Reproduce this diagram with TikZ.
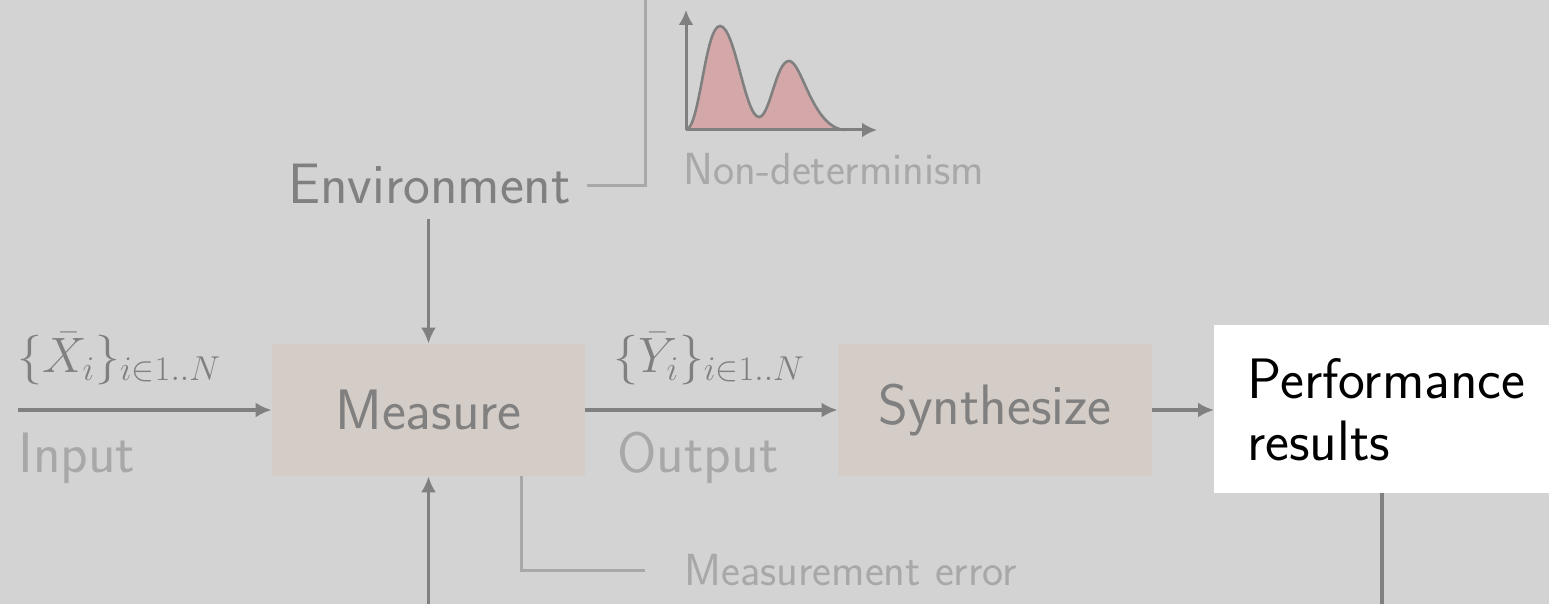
\documentclass[tikz,border=0pt]{standalone}
\usetikzlibrary{arrows.meta}
\definecolor{bg}{RGB}{211,211,211}
\definecolor{boxc}{RGB}{212,204,198}
\definecolor{dk}{RGB}{128,128,128}
\definecolor{lt}{RGB}{168,168,168}
\definecolor{pk}{RGB}{212,168,168}
\begin{document}
\begin{tikzpicture}[x=0.5pt,y=-0.5pt,
  blk/.style={fill=boxc, text=dk, minimum height=66pt, inner sep=0pt, font=\sffamily\fontsize{28.5}{31}\selectfont},
  lbl/.style={anchor=base west, inner sep=0pt, text=lt, font=\sffamily\fontsize{28.5}{31}\selectfont},
  sml/.style={anchor=base west, inner sep=0pt, text=lt, font=\sffamily\fontsize{22.5}{26}\selectfont},
  mth/.style={anchor=base west, inner sep=0pt, text=dk, font=\fontsize{24}{26}\selectfont},
  arr/.style={draw=dk, line width=1.6pt, -{Latex[length=8pt,width=7.5pt]}},
  brk/.style={draw=lt, line width=1.5pt},
  axis/.style={draw=dk, line width=1.5pt, -{Latex[length=7.5pt,width=7.5pt]}},
]
\useasboundingbox (0,0) rectangle (1549,604);
\fill[bg] (0,0) rectangle (1549,604);

% boxes
\node[blk, minimum width=156.5pt] (measure) at (428.5,410) {Measure};
\node[blk, minimum width=157pt] (synth) at (995,410) {Synthesize};
\node[fill=white, anchor=north west, minimum width=150pt, minimum height=84pt,
      inner xsep=16.5pt, inner ysep=0pt, align=left, text=black,
      font=\sffamily\fontsize{28.5}{31}\selectfont] (perf) at (1214,325) {Performance\\results};

% environment
\node[anchor=base, inner sep=0pt, text=dk, font=\sffamily\fontsize{28.5}{31}\selectfont] (env) at (429.5,204) {Environment};

% labels
\node[mth] (xlab) at (17,373) {$\{\bar{X}_i\}_{i\in 1..N}$};
\node[lbl] (inlab) at (18,473) {Input};
\node[mth] (ylab) at (613,373) {$\{\bar{Y}_i\}_{i\in 1..N}$};
\node[lbl] (outlab) at (617,473) {Output};
\node[sml] (nondet) at (683,185) {Non-determinism};
\node[sml] (merr) at (684,585) {Measurement error};

% coordinates
\coordinate (inS) at (18,410);
\coordinate (envb) at (0,219);
\coordinate (bot) at (0,604);
\coordinate (b1) at (587,186);
\coordinate (b2) at (645,186);
\coordinate (b3) at (645,0);
\coordinate (m1) at (521,476);
\coordinate (m2) at (521,570);
\coordinate (m3) at (645,570);
\coordinate (pl) at (1382,493);
\coordinate (pb) at (1382,604);

% connectors
\draw[arr] (inS) -- (measure.west);
\draw[arr] (measure.east) -- (synth.west);
\draw[arr] (synth.east) -- (perf.west |- synth.east);
\draw[arr] (measure.north |- envb) -- (measure.north);
\draw[arr] (measure.south |- bot) -- (measure.south);
\draw[draw=dk, line width=1.6pt] (pl) -- (pb);
\draw[brk] (b1) -- (b2) -- (b3);
\draw[brk] (m1) -- (m2) -- (m3);

% distribution plot
\coordinate (o) at (686,130);
\coordinate (ytop) at (686,10);
\coordinate (xend) at (877,130);
\fill[pk] (o) .. controls (700,128) and (705,26) .. (720,26)
  .. controls (735,26) and (745,117) .. (759,117)
  .. controls (770,117) and (776,61) .. (789,61)
  .. controls (802,61) and (812,128) .. (845,130) -- cycle;
\draw[dk, line width=1.3pt] (o) .. controls (700,128) and (705,26) .. (720,26)
  .. controls (735,26) and (745,117) .. (759,117)
  .. controls (770,117) and (776,61) .. (789,61)
  .. controls (802,61) and (812,128) .. (845,130);
\draw[axis] (o) -- (ytop);
\draw[axis] (o) -- (xend);
\end{tikzpicture}
\end{document}
